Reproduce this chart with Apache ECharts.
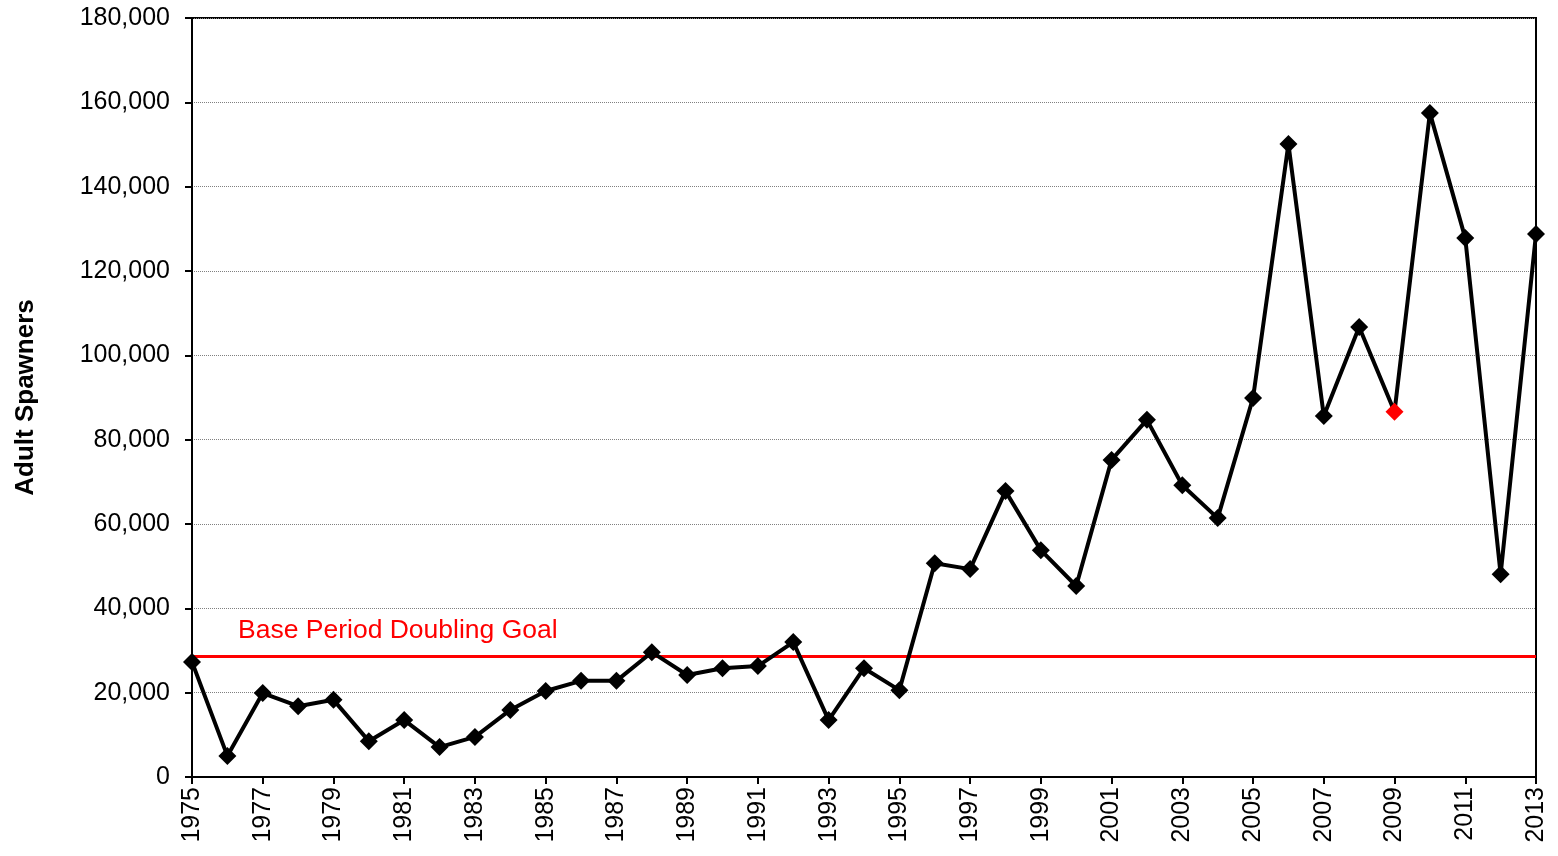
<!DOCTYPE html>
<html>
<head>
<meta charset="utf-8">
<script src="https://cdn.jsdelivr.net/npm/echarts@6/dist/echarts.min.js"></script>
<style>
  html, body { margin: 0; padding: 0; background: #fff; }
  #chart { width: 1558px; height: 856px; }
</style>
</head>
<body>
<div id="chart"></div>
<script>
let years = []
for (let y = 1975; y <= 2013; y++) years.push(String(y))

let spawners = [
  27300, 5000, 19900, 16800, 18300, 8500, 13500, 7100, 9500, 15900,
  20400, 22800, 22800, 29600, 24200, 25800, 26300, 32000, 13500, 25800,
  20600, 50700, 49300, 67800, 53800, 45300, 75200, 84700, 69200, 61400,
  89900, 150100, 85600, 106700, 86600, 157500, 127800, 48100, 128800
]
let goal = 28700
let highlightYear = '2009'

let chart = echarts.init(document.getElementById('chart'))

let seriesData = spawners.map(function (v, i) {
  if (years[i] === highlightYear) {
    return { value: v, itemStyle: { color: '#ff0000' } }
  }
  return v
})

let option = {
  backgroundColor: '#fff',
  animation: false,
  textStyle: { fontFamily: 'Liberation Sans, Arial, sans-serif' },
  grid: {
    left: 192, right: 22, top: 18, bottom: 79,
    show: true, borderColor: '#000', borderWidth: 2
  },
  xAxis: {
    type: 'category',
    data: years,
    boundaryGap: false,
    axisLine: { lineStyle: { color: '#000', width: 2 } },
    axisTick: { interval: 1, length: 7, lineStyle: { color: '#000', width: 2 } },
    axisLabel: { interval: 1, rotate: 90, color: '#000', fontSize: 25, margin: 10 },
    splitLine: { show: false }
  },
  yAxis: {
    type: 'value',
    min: 0, max: 180000, interval: 20000,
    name: 'Adult Spawners',
    nameLocation: 'middle',
    nameGap: 153,
    nameTextStyle: { color: '#000', fontSize: 26, fontWeight: 'bold' },
    axisLine: { show: true, lineStyle: { color: '#000', width: 2 } },
    axisTick: { show: true, length: 7, lineStyle: { color: '#000', width: 2 } },
    axisLabel: {
      color: '#000', fontSize: 25, margin: 22,
      formatter: function (v) { return v.toLocaleString('en-US') }
    },
    splitLine: { lineStyle: { color: '#808080', type: 'dotted', width: 1 } }
  },
  series: [
    {
      name: 'Adult Spawners',
      type: 'line',
      data: seriesData,
      symbol: 'diamond',
      symbolSize: 18,
      lineStyle: { color: '#000', width: 4 },
      itemStyle: { color: '#000' },
      z: 3,
      markLine: {
        silent: true,
        symbol: 'none',
        lineStyle: { color: '#ff0000', width: 3, type: 'solid' },
        label: {
          show: true,
          position: 'insideStartTop',
          formatter: 'Base Period Doubling Goal',
          color: '#ff0000',
          fontSize: 26.5,
          distance: [46, 12]
        },
        data: [{ yAxis: goal }],
        z: 2
      }
    }
  ]
}
chart.setOption(option)
</script>
</body>
</html>
